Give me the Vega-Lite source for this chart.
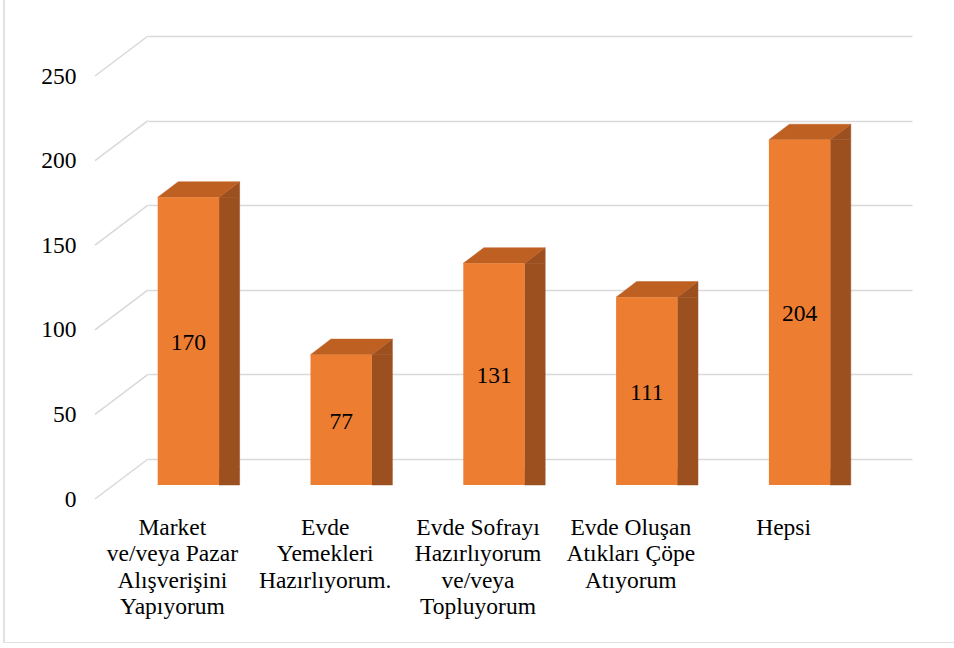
{
  "$schema": "https://vega.github.io/schema/vega-lite/v6.json",
  "width": 952,
  "height": 643,
  "autosize": {"type": "none"},
  "padding": {"left": 4, "top": 0, "right": 0, "bottom": 0},
  "background": "white",
  "config": {
    "view": {"stroke": "#D9D9D9", "strokeWidth": 1.5, "strokeDash": [0, 1595, 1595, 0]},
    "font": "Times New Roman, Liberation Serif, serif"
  },
  "data": {"values": [
    {"activity": "Market ve/veya Pazar Alışverişini Yapıyorum", "count": 170},
    {"activity": "Evde Yemekleri Hazırlıyorum.", "count": 77},
    {"activity": "Evde Sofrayı Hazırlıyorum ve/veya Topluyorum", "count": 131},
    {"activity": "Evde Oluşan Atıkları Çöpe Atıyorum", "count": 111},
    {"activity": "Hepsi", "count": 204}
  ]},
  "encoding": {
    "x": {
      "field": "activity", "type": "nominal",
      "scale": {
        "domain": ["Market ve/veya Pazar Alışverişini Yapıyorum", "Evde Yemekleri Hazırlıyorum.", "Evde Sofrayı Hazırlıyorum ve/veya Topluyorum", "Evde Oluşan Atıkları Çöpe Atıyorum", "Hepsi"],
        "range": [144, 908], "paddingInner": 0, "paddingOuter": 0
      },
      "axis": {
        "title": null, "domain": false, "ticks": false, "grid": false, "labelAngle": 0,
        "labelFont": "Times New Roman, Liberation Serif, serif", "labelFontSize": 23.5, "labelColor": "black",
        "labelLineHeight": 26.6, "labelOffset": -52, "labelPadding": 16, "offset": -144,
        "labelBaseline": "top", "labelAlign": "center", "labelLimit": 300,
        "labelExpr": "datum.value == 'Market ve/veya Pazar Alışverişini Yapıyorum' ? ['Market', 've/veya Pazar', 'Alışverişini', 'Yapıyorum'] : datum.value == 'Evde Yemekleri Hazırlıyorum.' ? ['Evde', 'Yemekleri', 'Hazırlıyorum.'] : datum.value == 'Evde Sofrayı Hazırlıyorum ve/veya Topluyorum' ? ['Evde Sofrayı', 'Hazırlıyorum', 've/veya', 'Topluyorum'] : datum.value == 'Evde Oluşan Atıkları Çöpe Atıyorum' ? ['Evde Oluşan', 'Atıkları Çöpe', 'Atıyorum'] : datum.label"
      }
    }
  },
  "resolve": {"scale": {"y": "independent"}},
  "layer": [
    {
      "encoding": {
        "y": {
          "field": "count", "type": "quantitative",
          "scale": {"domain": [0, 250], "range": [459, 36], "nice": false, "zero": false},
          "axis": {
            "title": null, "values": [0, 50, 100, 150, 200, 250],
            "grid": true, "gridColor": "#D9D9D9", "gridWidth": 1.5,
            "domain": false, "ticks": false, "tickSize": 0,
            "labelFont": "Times New Roman, Liberation Serif, serif", "labelFontSize": 23.5, "labelColor": "black",
            "labelPadding": 20, "labelOffset": 40, "offset": -92,
            "labelFlush": false, "labelOverlap": false
          }
        }
      },
      "layer": [
        {
          "data": {"values": [{"tick": 0}, {"tick": 50}, {"tick": 100}, {"tick": 150}, {"tick": 200}, {"tick": 250}]},
          "mark": {"type": "rule", "color": "#D9D9D9", "strokeWidth": 1.5, "xOffset": -129.4, "x2Offset": -76.4, "yOffset": 40, "y2Offset": 0},
          "encoding": {
            "x": {"datum": "Market ve/veya Pazar Alışverişini Yapıyorum", "type": "nominal"},
            "x2": {"datum": "Market ve/veya Pazar Alışverişini Yapıyorum"},
            "y": {"field": "tick", "type": "quantitative", "scale": {"domain": [0, 250], "range": [459, 36], "nice": false, "zero": false}},
            "y2": {"field": "tick"}
          }
        },
        {
          "mark": {"type": "bar", "color": "#9C5020", "stroke": "#9C5020", "strokeWidth": 0.5, "width": 20.5, "xOffset": 4.95, "yOffset": 26, "y2Offset": 10.4}
        },
        {
          "mark": {"type": "point", "filled": true, "opacity": 1, "color": "#9C5020", "stroke": "#9C5020", "strokeWidth": 0.5, "size": 6707,
            "shape": "M 0.4994 0.1905 L 1 -0.1905 L 1 0.1905 Z", "xOffset": -25.75, "yOffset": 18.2}
        },
        {
          "mark": {"type": "point", "filled": true, "opacity": 1, "color": "#9C5020", "stroke": "#9C5020", "strokeWidth": 0.5, "size": 6707,
            "shape": "M 0.4994 -0.1905 L 0.4994 0.1905 L 1 -0.1905 Z", "xOffset": -25.75, "yOffset": 18.2},
          "encoding": {
            "y": {"datum": 0, "type": "quantitative", "scale": {"domain": [0, 250], "range": [459, 36], "nice": false, "zero": false}}
          }
        },
        {
          "mark": {"type": "point", "filled": true, "opacity": 1, "color": "#BE6022", "stroke": "#BE6022", "strokeWidth": 0.5, "size": 6707,
            "shape": "M -1 0.1905 L 0.4994 0.1905 L 1 -0.1905 L -0.4994 -0.1905 Z", "xOffset": -25.75, "yOffset": 18.2}
        },
        {
          "mark": {"type": "bar", "color": "#ED7D31", "width": 61.4, "xOffset": -36, "yOffset": 26, "y2Offset": 26}
        }
      ]
    },
    {
      "mark": {"type": "text", "font": "Times New Roman, Liberation Serif, serif", "fontSize": 23.5, "color": "black", "dx": -36, "dy": 28, "baseline": "middle", "align": "center"},
      "encoding": {
        "y": {"field": "count", "type": "quantitative", "scale": {"domain": [0, 500], "range": [459, 36], "nice": false, "zero": false}, "axis": null},
        "text": {"field": "count", "type": "quantitative"}
      }
    }
  ]
}
